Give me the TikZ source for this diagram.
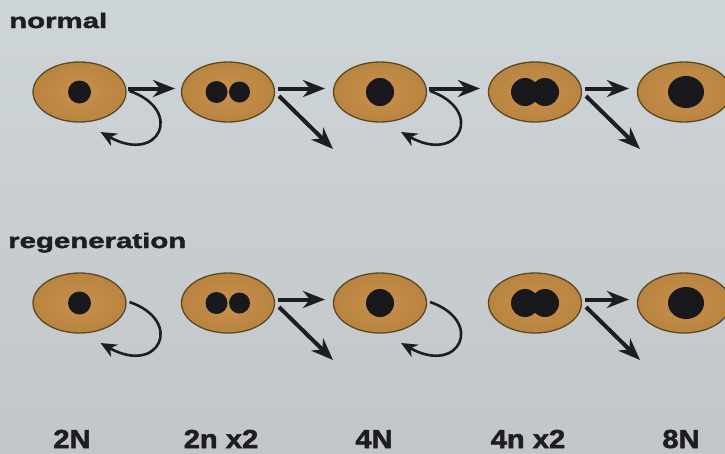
\documentclass[tikz,border=0pt]{standalone}
\usepackage{fontspec}
\usetikzlibrary{arrows.meta,shapes.geometric}
\newfontfamily\headfont{Liberation Sans Bold}[FakeStretch=1.40,FakeBold=2]
\newfontfamily\plfont{Liberation Sans Bold}[FakeStretch=1.12,FakeBold=2]
\definecolor{bgtop}{HTML}{CED5D8}
\definecolor{bgbot}{HTML}{C2C6C8}
\definecolor{cellin}{HTML}{C8914D}
\definecolor{cellout}{HTML}{B98340}
\definecolor{cellrim}{HTML}{5A4A24}
\definecolor{nuc}{HTML}{18181D}
\definecolor{ink}{HTML}{1E1E20}
\begin{document}
\begin{tikzpicture}[x=1pt,y=-1pt,
  cell/.style={ellipse,minimum width=93pt,minimum height=60pt,inner sep=0pt,
    draw=cellrim,line width=1.3pt,inner color=cellin,outer color=cellout},
  fwd/.style={draw=ink,line width=4pt,-{Stealth[length=22pt,width=17pt,inset=7pt]}},
  selfloop/.style={draw=ink,line width=2.6pt,-{Stealth[length=16pt,width=14pt,inset=5pt]}},
  head/.style={anchor=base west,inner sep=0pt,text=ink,font=\headfont\fontsize{21}{21}\selectfont},
  ploidy/.style={anchor=base,inner sep=0pt,text=ink,font=\plfont\fontsize{26}{26}\selectfont}]

% canvas
\useasboundingbox (0,0) rectangle (725,453);
\shade[top color=bgtop,bottom color=bgbot] (0,0) rectangle (725,453);

% row headings
\node[head] (hnormal) at (9,28) {normal};
\node[head] (hregen) at (8,248) {regeneration};

% cells of both rows
\foreach \r/\y in {a/92,b/303}{
  \node[cell] (\r1) at (79.5,\y) {};
  \node[cell] (\r2) at (228,\y) {};
  \node[cell] (\r3) at (380,\y) {};
  \node[cell] (\r4) at (535,\y) {};
  \node[cell] (\r5) at (684,\y) {};
  % nuclei
  \fill[nuc] (\r1.center) circle[radius=11.5pt];
  \fill[nuc] ([shift={(-11.5,0)}]\r2.center) circle[radius=11pt];
  \fill[nuc] ([shift={(11.5,0)}]\r2.center) circle[radius=10.5pt];
  \fill[nuc] (\r3.center) circle[radius=14pt];
  \fill[nuc] ([shift={(-10,0)}]\r4.center) circle[radius=14pt];
  \fill[nuc] ([shift={(10,0)}]\r4.center) circle[radius=14pt];
  \fill[nuc] ([shift={(2,0)}]\r5.center) circle[x radius=18pt,y radius=16pt];
}

% self-renewal loops (both rows)
\foreach \c in {a1,a3,b1,b3}{
  \draw[selfloop] ([shift={(50,-1)}]\c.center)
    .. controls ([shift={(105,18)}]\c.center) and ([shift={(80,73)}]\c.center)
    .. ([shift={(21,40)}]\c.center);
}

% progression arrows
\draw[fwd] ([shift={(48.5,-3.5)}]a1.center) -- ([shift={(-53,-3.5)}]a2.center);
\draw[fwd] ([shift={(48.5,-3.5)}]a3.center) -- ([shift={(-55,-3.5)}]a4.center);
\foreach \r/\n/\m in {a/2/3,a/4/5,b/2/3,b/4/5}{
  \draw[fwd] ([shift={(50,-3.5)}]\r\n.center) -- ([shift={(-55,-3.5)}]\r\m.center);
  \draw[fwd] ([shift={(51,4)}]\r\n.center) -- ([shift={(105,57)}]\r\n.center);
}

% ploidy labels
\node[ploidy] (p1) at (72,448) {2N};
\node[ploidy] (p2) at (221,448) {2n x2};
\node[ploidy] (p3) at (374,448) {4N};
\node[ploidy] (p4) at (528,448) {4n x2};
\node[ploidy] (p5) at (681,448) {8N};
\end{tikzpicture}
\end{document}
